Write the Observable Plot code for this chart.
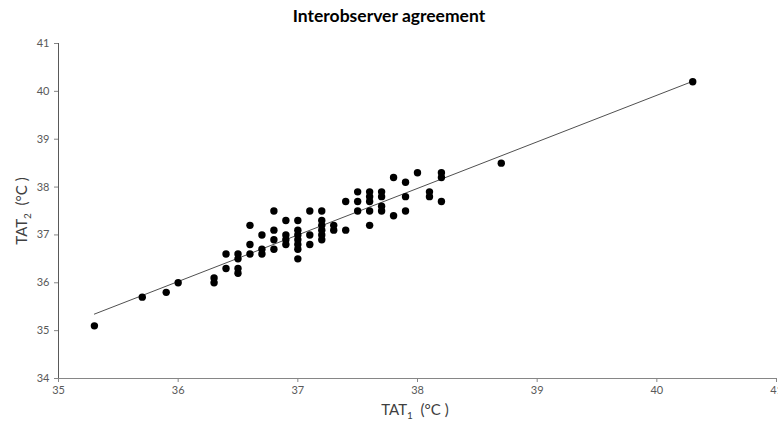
<!DOCTYPE html>
<html>
<head>
<meta charset="utf-8">
<script src="https://cdn.jsdelivr.net/npm/d3@7"></script>
<script src="https://cdn.jsdelivr.net/npm/@observablehq/plot@0.6"></script>
<style>
  html, body { margin: 0; padding: 0; background: #fff; }
  #wrap { position: relative; width: 778px; height: 423px; font-family: Lato, "Open Sans", sans-serif; }
  #title { position: absolute; top: 5px; left: 0; width: 778px; text-align: center; font-weight: bold; font-size: 17.5px; color: #000; }
  #xlab { position: absolute; top: 400px; left: 330px; width: 170px; text-align: center; font-size: 15px; color: #404040; }
  #ylab { position: absolute; left: 22px; top: 211px; transform: translate(-50%, -50%) rotate(-90deg); white-space: nowrap; font-size: 15px; color: #404040; }
  sub { font-size: 10px; }
</style>
</head>
<body>
<div id="wrap">
  <div id="chart"></div>
  <div id="title">Interobserver agreement</div>
  <div id="xlab">TAT<sub>1</sub>&nbsp; (°C )</div>
  <div id="ylab">TAT<sub>2</sub>&nbsp; (°C )</div>
</div>
<script>
const tat1 = [35.3,35.7,35.9,36.0,36.3,36.3,36.4,36.4,36.5,36.5,36.5,36.5,36.6,36.6,36.6,36.7,36.7,36.7,
  36.8,36.8,36.8,36.8,36.9,36.9,36.9,36.9,37.0,37.0,37.0,37.0,37.0,37.0,37.0,37.1,37.1,37.1,
  37.2,37.2,37.2,37.2,37.2,37.2,37.3,37.3,37.4,37.4,37.5,37.5,37.5,37.6,37.6,37.6,37.6,37.6,
  37.7,37.7,37.7,37.7,37.8,37.8,37.9,37.9,37.9,38.0,38.1,38.1,38.2,38.2,38.2,38.7,40.3];
const tat2 = [35.1,35.7,35.8,36.0,36.0,36.1,36.6,36.3,36.6,36.5,36.3,36.2,37.2,36.8,36.6,37.0,36.7,36.6,
  37.5,37.1,36.9,36.7,37.3,37.0,36.9,36.8,37.3,37.1,37.0,36.9,36.8,36.7,36.5,37.5,37.0,36.8,
  37.5,37.3,37.2,37.1,37.0,36.9,37.2,37.1,37.7,37.1,37.9,37.7,37.5,37.9,37.8,37.7,37.5,37.2,
  37.9,37.8,37.6,37.5,38.2,37.4,38.1,37.8,37.5,38.3,37.9,37.8,38.3,38.2,37.7,38.5,40.2];
const xTicks = [35, 36, 37, 38, 39, 40, 41];
const yTicks = [34, 35, 36, 37, 38, 39, 40, 41];

const data = tat1.map((x, i) => ({x, y: tat2[i]}));

const chart = Plot.plot({
  width: 778,
  height: 423,
  marginLeft: 58,
  marginRight: 2,
  marginTop: 43,
  marginBottom: 45,
  style: {fontFamily: "Lato, 'Open Sans', sans-serif", fontSize: "11px", color: "#595959", background: "#fff"},
  x: {domain: [35, 41]},
  y: {domain: [34, 41]},
  marks: [
    Plot.ruleY([34], {stroke: "#868686", strokeWidth: 1}),
    Plot.ruleX([35], {stroke: "#595959", strokeWidth: 1}),
    Plot.axisX(xTicks, {tickSize: 4, tickPadding: 4, tickFormat: "d", label: null, stroke: "#868686", fill: "#595959"}),
    Plot.axisY(yTicks, {tickSize: 4, tickPadding: 5, tickFormat: "d", label: null, stroke: "#868686", fill: "#595959"}),
    Plot.linearRegressionY(data, {x: "x", y: "y", ci: 0, stroke: "#505050", strokeWidth: 1}),
    Plot.dot(data, {x: "x", y: "y", r: 3.7, fill: "#000", stroke: "none"})
  ]
});
document.getElementById("chart").appendChild(chart);
</script>
</body>
</html>
